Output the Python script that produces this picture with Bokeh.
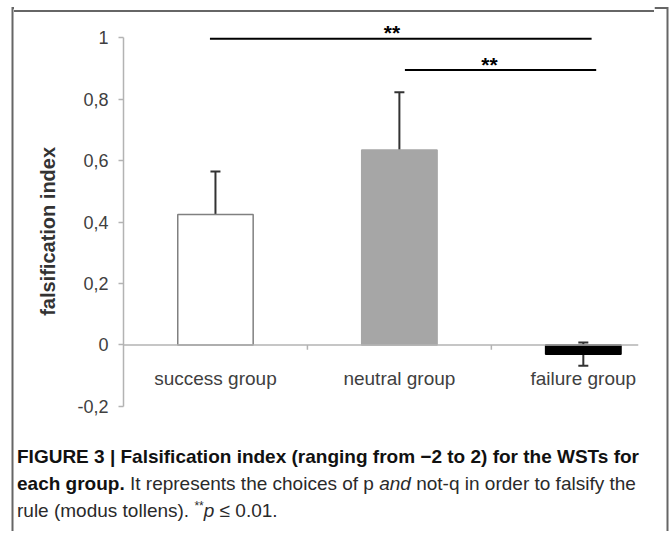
from bokeh.plotting import figure
from bokeh.layouts import column, row
from bokeh.models import Range1d, FixedTicker, Span, Whisker, ColumnDataSource, TeeHead, Div
from bokeh.embed import file_html
from bokeh.resources import INLINE
from bokeh.core.properties import value

# ---- data ----
categories = ["success group", "neutral group", "failure group"]
means = [0.425, 0.635, -0.03]
err_low = [0.285, 0.445, -0.068]
err_high = [0.565, 0.823, 0.008]
bar_colors = ["white", "#a6a6a6", "black"]
bar_line_colors = ["#808080", "#a6a6a6", "black"]
y_ticks = [-0.2, 0.0, 0.2, 0.4, 0.6, 0.8, 1.0]
y_tick_labels = ["-0,2", "0", "0,2", "0,4", "0,6", "0,8", "1"]
sig_from = [0.47, 1.53]
sig_to = [2.545, 2.57]
sig_level = [0.997, 0.895]
sig_star_x = [1.46, 1.99]
sig_text = ["**", "**"]

caption_title = "FIGURE 3 | Falsification index (ranging from \u22122 to 2) for the WSTs for"
caption_title_end = "each group."

xs = [i + 0.5 for i in range(len(categories))]
bounds = [i for i in range(1, len(categories))]

LEFT_W, MID_W, RIGHT_W = 14, 640, 15
TOP_H, CHART_H, CAP_H = 14, 416, 101
TOTAL_H = TOP_H + CHART_H + CAP_H
BORDER = "#666666"
BORDER_Y = 7.5


def blank(w, h):
    f = figure(width=w, height=h, x_range=Range1d(0, w), y_range=Range1d(h, 0),
               output_backend="svg", toolbar_location=None,
               x_axis_location=None, y_axis_location=None, min_border=0)
    f.outline_line_color = None
    f.xgrid.visible = False
    f.ygrid.visible = False
    f.background_fill_color = "white"
    f.border_fill_color = "white"
    return f


# ---- outer border of the figure panel ----
left = blank(LEFT_W, TOTAL_H)
left.segment(x0=[12], y0=[BORDER_Y - 1], x1=[12], y1=[TOTAL_H], line_color=BORDER, line_width=2)
left.segment(x0=[12], y0=[BORDER_Y], x1=[LEFT_W], y1=[BORDER_Y], line_color=BORDER, line_width=2)

right = blank(RIGHT_W, TOTAL_H)
right.segment(x0=[13], y0=[BORDER_Y - 1], x1=[13], y1=[TOTAL_H], line_color=BORDER, line_width=2)
right.segment(x0=[0], y0=[BORDER_Y], x1=[13], y1=[BORDER_Y], line_color=BORDER, line_width=2)

top = Div(width=MID_W, height=TOP_H, margin=0,
          text='<div style="margin:0;padding:0;height:6.5px;"></div>'
               '<div style="margin:0;padding:0;height:0;border-top:2px solid %s;width:%dpx;"></div>' % (BORDER, MID_W))

# ---- chart ----
p = figure(width=MID_W, height=CHART_H, x_range=Range1d(0, 2.80), y_range=Range1d(-0.22, 1.05),
           output_backend="svg", toolbar_location=None, x_axis_location=None,
           min_border_left=109, min_border_right=16, min_border_top=8, min_border_bottom=18)
p.outline_line_color = None
p.xgrid.visible = False
p.ygrid.visible = False
p.background_fill_color = "white"
p.border_fill_color = "white"

ax = p.yaxis[0]
ax.ticker = FixedTicker(ticks=y_ticks)
ax.major_label_overrides = dict(zip(y_ticks, y_tick_labels))
ax.bounds = (-0.2, 1.0)
ax.axis_line_color = "#b3b3b3"
ax.axis_line_width = 1.5
ax.major_tick_line_color = "#b3b3b3"
ax.major_tick_line_width = 1.5
ax.major_tick_out = 5
ax.major_tick_in = 0
ax.minor_tick_line_color = None
ax.major_label_text_font = "Liberation Sans"
ax.major_label_text_font_size = "18px"
ax.major_label_text_color = "#404040"
ax.major_label_standoff = 10
ax.axis_label = "falsification index" + "\u00a0" * 5
ax.axis_label_text_font = "Liberation Sans"
ax.axis_label_text_font_style = "bold"
ax.axis_label_text_font_size = "20px"
ax.axis_label_text_color = "#333333"
ax.axis_label_standoff = 15

p.add_layout(Span(location=0, dimension="width", line_color="#b3b3b3", line_width=1.5))

p.vbar(x=xs, top=means, bottom=0, width=0.41, fill_color=bar_colors,
       line_color=bar_line_colors, line_width=1.5)

p.segment(x0=bounds, y0=[0] * len(bounds), x1=bounds, y1=[-0.016] * len(bounds),
          line_color="#b3b3b3", line_width=1.5)

p.text(x=xs, y=[0] * len(xs), text=categories, text_align="center", text_baseline="middle",
       y_offset=34, text_font=value("Liberation Sans"), text_font_size="19px", text_color="#404040")

src = ColumnDataSource(dict(x=xs, lo=err_low, hi=err_high))
p.add_layout(Whisker(source=src, base="x", lower="lo", upper="hi", line_color="#333333", line_width=2,
                     upper_head=TeeHead(size=10, line_color="#333333", line_width=2),
                     lower_head=TeeHead(size=10, line_color="#333333", line_width=2)))

p.segment(x0=sig_from, y0=sig_level, x1=sig_to, y1=sig_level, line_color="black", line_width=2)
p.text(x=sig_star_x, y=sig_level, text=sig_text, text_align="center", text_baseline="middle",
       y_offset=-6, text_font=value("Liberation Sans"), text_font_style="bold",
       text_font_size="21px", text_color="black")

# ---- caption ----
cap_html = (
    '<div style="font-family:\'Liberation Sans\';font-size:19px;line-height:27px;color:#2a2a2a;'
    'padding:13px 0 0 3px;margin:0;white-space:nowrap;">'
    '<b style="color:#111;">%s</b><br>'
    '<b style="color:#111;">%s</b> It represents the choices of p <i>and</i> not-q in order to falsify the<br>'
    'rule (modus tollens). <sup style="font-size:12px;line-height:0;">**</sup><i>p</i> \u2264 0.01.'
    '</div>' % (caption_title, caption_title_end)
)
cap_div = Div(width=MID_W, height=CAP_H, margin=0, text=cap_html)

layout = row(left, column(top, p, cap_div, spacing=0), right, spacing=0)
open("out.html", "w").write(file_html(layout, INLINE))
